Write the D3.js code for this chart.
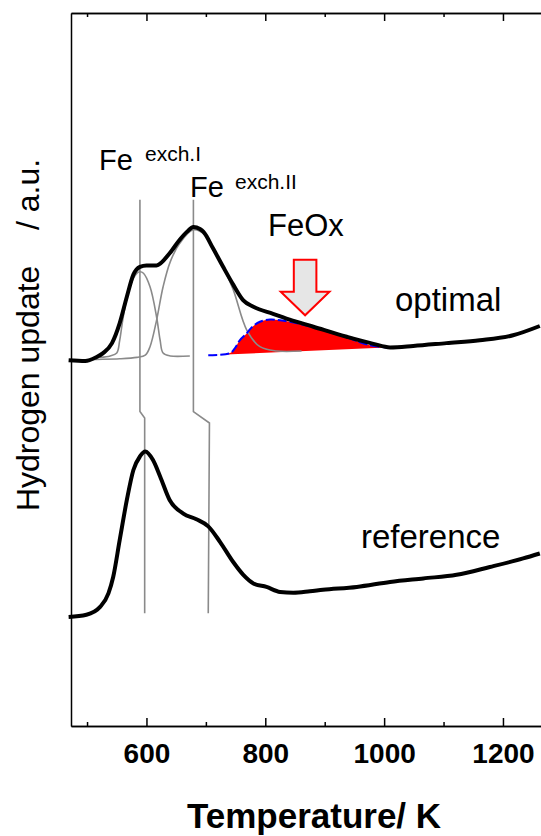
<!DOCTYPE html>
<html>
<head>
<meta charset="utf-8">
<script src="https://cdn.jsdelivr.net/npm/d3@7"></script>
<style>
  body { margin: 0; background: #fff; }
  text { font-family: "Liberation Sans", Arial, sans-serif; }
</style>
</head>
<body>
<div id="chart-area"></div>
<script>
// TPR traces: [temperature K, signal a.u.]
const optimal = [[469, 51.3], [497, 51.2], [515, 51.7], [527, 52.3], [542, 53.7], [555, 56.5], [567, 60.2],
  [578, 63.3], [589, 64.4], [600, 64.6], [617, 64.6], [639, 66.3], [656, 68.2], [668, 69.3], [679, 70.0],
  [690, 69.7], [696, 69.3], [712, 67.0], [729, 64.4], [746, 61.9], [763, 59.7], [780, 58.8], [813, 57.8],
  [841, 57.0], [881, 56.0], [937, 54.6], [982, 53.6], [1010, 53.1], [1049, 53.3], [1105, 53.7],
  [1161, 54.1], [1217, 54.8], [1262, 56.1]]
const reference = [[469, 15.3], [499, 15.6], [522, 16.7], [536, 18.6], [544, 20.9], [555, 26.1], [567, 31.7],
  [578, 35.9], [589, 37.8], [598, 38.5], [611, 37.3], [623, 35.0], [639, 31.7], [662, 29.8], [684, 29.0],
  [704, 28.0], [724, 25.8], [746, 23.0], [763, 21.2], [780, 20.0], [802, 19.5], [825, 18.8], [847, 18.7],
  [875, 18.9], [897, 19.1], [954, 19.5], [1010, 20.2], [1066, 20.7], [1122, 21.2], [1178, 22.3],
  [1234, 23.5], [1262, 24.2]]

// fitted components
const peakExchI = [[522, 51.7], [539, 51.9], [550, 52.3], [555, 54.1], [561, 57.4], [572, 61.6], [584, 63.5],
  [589, 63.7], [595, 63.5], [606, 61.6], [617, 57.4], [623, 54.1], [628, 52.3], [640, 51.9], [673, 51.9]]
const peakExchII = [[480, 51.3], [508, 51.4], [555, 51.5], [584, 51.7], [598, 52.0], [606, 53.2], [617, 56.9],
  [628, 61.6], [640, 65.1], [656, 67.7], [679, 69.6], [698, 68.9], [712, 66.8], [729, 64.4], [746, 61.2],
  [769, 55.5], [791, 53.2], [819, 52.6], [861, 52.6]]
const feox = [[704, 52.0], [741, 52.3], [749, 53.0], [757, 54.1], [769, 55.1], [777, 55.9], [791, 56.7],
  [808, 57.0], [825, 56.9], [841, 56.7], [881, 55.9], [937, 54.5], [976, 53.4], [1004, 53.1]]

// vertical guide lines for the two exchanged-Fe peaks
const guideI = [[589, 73.8], [589, 44.1], [597, 43.2], [597, 15.8]]
const guideII = [[679, 73.8], [679, 44.1], [706, 42.5], [704, 15.8]]

// FeOx arrow: centre T, shaft / head half widths (K), top, shoulder, tip (a.u.)
const arrowT = 867, arrowShaft = 19, arrowHead = 41
const arrowTop = 65.4, arrowShoulder = 60.9, arrowTip = 57.6

const majorTicks = [600, 800, 1000, 1200]
const minorTicks = [500, 700, 900, 1100]

const W = 541, H = 836

const svg = d3.select("#chart-area").append("svg")
  .attr("width", W)
  .attr("height", H)

const x = d3.scaleLinear().domain([473, 1296]).range([71, 560])
const y = d3.scaleLinear().domain([0, 100]).range([726, 13])

const line = d3.line().x(d => x(d[0])).y(d => y(d[1])).curve(d3.curveMonotoneX)
const smooth = d3.line().x(d => x(d[0])).y(d => y(d[1])).curve(d3.curveCatmullRom)
const poly = d3.line().x(d => x(d[0])).y(d => y(d[1])).curve(d3.curveLinear)

// FeOx red area (closed along straight baseline)
svg.append("path")
  .attr("d", smooth(feox) + "Z")
  .attr("fill", "#ff0000")
  .attr("stroke", "none")

// fitted gray peaks
;[peakExchI, peakExchII].forEach(p => {
  svg.append("path")
    .attr("d", smooth(p))
    .attr("fill", "none")
    .attr("stroke", "#8a8a8a")
    .attr("stroke-width", 1.6)
})

// guides
;[guideI, guideII].forEach(g => {
  svg.append("path")
    .attr("d", poly(g))
    .attr("fill", "none")
    .attr("stroke", "#8a8a8a")
    .attr("stroke-width", 1.6)
})

// blue dashed FeOx outline
svg.append("path")
  .attr("d", smooth(feox))
  .attr("fill", "none")
  .attr("stroke", "#0000ff")
  .attr("stroke-width", 2)
  .attr("stroke-dasharray", "9,3")

// measured traces
;[optimal, reference].forEach(s => {
  svg.append("path")
    .attr("d", line(s))
    .attr("fill", "none")
    .attr("stroke", "#000")
    .attr("stroke-width", 4)
    .attr("stroke-linejoin", "round")
})

// arrow
const arrowPts = [
  [arrowT - arrowShaft, arrowTop], [arrowT + arrowShaft, arrowTop], [arrowT + arrowShaft, arrowShoulder],
  [arrowT + arrowHead, arrowShoulder], [arrowT, arrowTip], [arrowT - arrowHead, arrowShoulder],
  [arrowT - arrowShaft, arrowShoulder]
]
svg.append("path")
  .attr("d", poly(arrowPts) + "Z")
  .attr("fill", "#e6e6e6")
  .attr("stroke", "#ff0000")
  .attr("stroke-width", 2)

// axes
const axisStyle = sel => {
  sel.selectAll("path, line").attr("stroke", "#000").attr("stroke-width", 1.5)
}
const bottom = svg.append("g").attr("transform", "translate(0,726)")
  .call(d3.axisBottom(x).tickValues(majorTicks).tickSize(-8).tickSizeOuter(0).tickFormat(d3.format("d")))
bottom.call(axisStyle)
bottom.selectAll("text")
  .attr("y", 37).attr("dy", 0)
  .attr("font-size", 28).attr("font-weight", "bold").attr("fill", "#000")
  .style("font-family", "'Liberation Sans', Arial, sans-serif")
svg.append("g").attr("transform", "translate(0,726)")
  .call(d3.axisBottom(x).tickValues(minorTicks).tickSize(-4).tickSizeOuter(0).tickFormat(""))
  .call(axisStyle)

svg.append("g").attr("transform", "translate(0,13)")
  .call(d3.axisTop(x).tickValues(majorTicks).tickSize(-8).tickSizeOuter(0).tickFormat(""))
  .call(axisStyle)
svg.append("g").attr("transform", "translate(0,13)")
  .call(d3.axisTop(x).tickValues(minorTicks).tickSize(-4).tickSizeOuter(0).tickFormat(""))
  .call(axisStyle)

svg.append("g").attr("transform", "translate(71,0)")
  .call(d3.axisLeft(y).tickValues([]).tickSizeOuter(0))
  .call(axisStyle)

// axis titles
svg.append("text")
  .attr("x", 314).attr("y", 828)
  .attr("text-anchor", "middle")
  .attr("font-size", 35).attr("font-weight", "bold")
  .text("Temperature/ K")

svg.append("text")
  .attr("transform", "translate(39,335) rotate(-90)")
  .attr("text-anchor", "middle")
  .attr("font-size", 32)
  .style("white-space", "pre")
  .text("Hydrogen update    / a.u.")

// annotations
const label = (tx, ty, size, str) => svg.append("text")
  .attr("x", tx).attr("y", ty).attr("font-size", size).text(str)

label(99, 170, 29, "Fe")
label(145, 161, 21, "exch.I")
label(190, 197, 29, "Fe")
label(235, 189, 21, "exch.II")
label(268, 236, 31, "FeOx")
label(395, 311, 33, "optimal")
label(361, 548, 33, "reference")
</script>
</body>
</html>
